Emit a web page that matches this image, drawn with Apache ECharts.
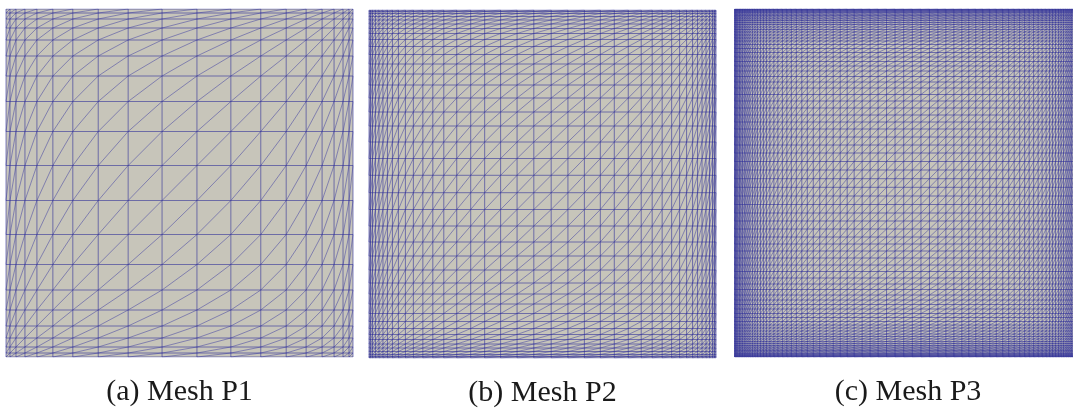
<!DOCTYPE html>
<html>
<head>
<meta charset="utf-8">
<style>html,body{margin:0;padding:0;background:#fff}#c{width:1073px;height:409px}</style>
<script src="https://cdn.jsdelivr.net/npm/echarts@6/dist/echarts.min.js"></script>
</head>
<body>
<div id="c"></div>
<script>
const captions = ['(a) Mesh P1', '(b) Mesh P2', '(c) Mesh P3'];
const meshP1 = [-174,-170,-164,-155,-143,-127,-107,-81.5,-51.5,-17.5,17.5,51.5,81.5,107,127,143,155,164,170,174];
const meshP2 = [-174,-172.5,-170.5,-167.5,-164,-160,-155.5,-150.5,-144.5,-137.5,-129.5,-120,-110,-99,-86,-72,-58,-42,-25.5,-8.7,
  8.7,25.5,42,58,72,86,99,110,120,129.5,137.5,144.5,150.5,155.5,160,164,167.5,170.5,172.5,174];
const meshP3 = [-174,-173.4,-172.6,-171.6,-170.5,-169,-167.6,-166,-164.2,-162.5,-160.5,-158.5,-156,-153.5,-151,-148,-145,-142,-138.5,-134.5,
  -130.5,-126,-121.5,-117,-112,-106.5,-101,-95,-88.5,-82,-75,-68,-61,-54,-46,-38,-30,-21.5,-13,-4.3,
  4.3,13,21.5,30,38,46,54,61,68,75,82,88.5,95,101,106.5,112,117,121.5,126,130.5,
  134.5,138.5,142,145,148,151,153.5,156,158.5,160.5,162.5,164.2,166,167.6,169,170.5,171.6,172.6,173.4,174];
const meshes = [meshP1, meshP2, meshP3];
const panelLeft = [6, 369, 734.5];
const panelTop = [9, 10, 9];

function edges(L) {
  const straight = [], diag = [];
  const n = L.length, a = L[0], b = L[n - 1];
  for (let i = 0; i < n; i++) {
    straight.push({coords: [[L[i], a], [L[i], b]]});
    straight.push({coords: [[a, L[i]], [b, L[i]]]});
  }
  for (let i = 0; i < n - 1; i++) for (let j = 0; j < n - 1; j++) {
    diag.push({coords: [[L[i], L[j]], [L[i + 1], L[j + 1]]]});
  }
  return {straight, diag};
}

const grid = [], xAxis = [], yAxis = [], series = [];
meshes.forEach((L, k) => {
  grid.push({left: panelLeft[k], top: panelTop[k], width: 347, height: 348, show: true,
    backgroundColor: '#c7c5ba', borderWidth: 0, containLabel: false, outerBoundsMode: 'none'});
  xAxis.push({type: 'value', gridIndex: k, min: -174, max: 174, name: captions[k],
    nameLocation: 'middle', nameGap: 20,
    nameTextStyle: {fontFamily: 'Liberation Serif', fontSize: 30, color: '#1a1a1a'},
    axisLine: {show: false}, axisTick: {show: false}, axisLabel: {show: false}, splitLine: {show: false}});
  yAxis.push({type: 'value', gridIndex: k, min: -174, max: 174,
    axisLine: {show: false}, axisTick: {show: false}, axisLabel: {show: false}, splitLine: {show: false}});
  const e = edges(L);
  const common = {type: 'lines', coordinateSystem: 'cartesian2d', xAxisIndex: k, yAxisIndex: k,
    polyline: false, large: true, largeThreshold: 1, progressive: 0, silent: true, animation: false, effect: {show: false}};
  series.push(Object.assign({}, common, {data: e.diag,
    lineStyle: {color: '#3232a0', width: 0.8, opacity: 0.6}}));
  series.push(Object.assign({}, common, {data: e.straight,
    lineStyle: {color: '#30309a', width: 1, opacity: 0.6}}));
});

const chart = echarts.init(document.getElementById('c'), null, {renderer: 'canvas'});
chart.setOption({animation: false, backgroundColor: '#ffffff', grid, xAxis, yAxis, series});
</script>
</body>
</html>
